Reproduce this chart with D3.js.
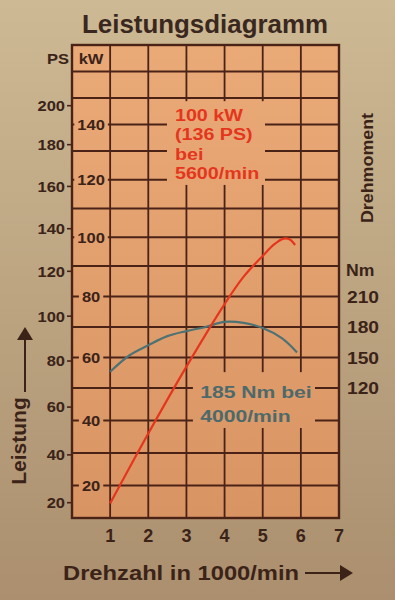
<!DOCTYPE html>
<html>
<head>
<meta charset="utf-8">
<script src="https://cdn.jsdelivr.net/npm/d3@7"></script>
<style>
body { margin: 0; background: #c2aa86; }
svg { display: block; font-family: "Liberation Sans", Arial, sans-serif; font-weight: bold; }
</style>
</head>
<body>
<div id="chart"><svg></svg></div>
<script>
// values
var rpmTicks = [1, 2, 3, 4, 5, 6, 7];
var kwTicks = [20, 40, 60, 80, 100, 120, 140];
var psTicks = [20, 40, 60, 80, 100, 120, 140, 160, 180, 200];
var nmTicks = [120, 150, 180, 210];

var powerRpm = [1, 2, 3, 4, 4.5, 5, 5.3, 5.55, 5.7, 5.85];
var powerKw = [14.5, 36, 57, 77.5, 86.5, 93.5, 97.5, 99.5, 99.3, 97.3];

var torqueRpm = [1, 1.5, 2, 2.5, 3, 3.5, 4, 4.5, 5, 5.5, 5.9];
var torqueNm = [136, 152, 162, 171, 176, 180, 185, 184, 179, 169, 155];

var powerNote = ["100 kW", "(136 PS)", "bei", "5600/min"];
var torqueNote = ["185 Nm bei", "4000/min"];

function psToKw(ps) { return ps * 0.7355; }
function nmToKw(nm) { return (nm + 30) / 3; }

// the print uses a wide face, so stretch the text a bit
function widen(sel, k) {
	sel.each(function() {
		var len = this.getComputedTextLength();
		d3.select(this)
			.attr("textLength", len * k)
			.attr("lengthAdjust", "spacingAndGlyphs");
	});
}

function PowerChart(selector) {
	var self = this;
	self.svg = d3.select(selector + " svg");
	self.width = 395;
	self.height = 600;
	self.x = d3.scaleLinear().domain([0, 7]).range([72, 339]);
	// photo perspective: rows get a little taller towards the bottom
	self.y = d3.scaleLinear().domain([10, 50, 90, 130, 170]).range([518, 388, 266, 151, 45]);
	self.ink = "#3b2318";
	self.gridColor = "#4a2216";
}

PowerChart.prototype.draw = function() {
	var self = this;
	self.svg.attr("width", self.width).attr("height", self.height);
	self.drawBackground();
	self.drawGrid();
	self.drawPatches();
	self.drawCurves();
	self.drawAxes();
	self.drawNotes();
	self.drawTitles();
};

PowerChart.prototype.drawBackground = function() {
	var self = this;
	var defs = self.svg.append("defs");
	var paper = defs.append("linearGradient")
			.attr("id", "paper")
			.attr("gradientUnits", "userSpaceOnUse")
			.attr("x1", 0).attr("y1", 0).attr("x2", 0).attr("y2", self.height);
	paper.append("stop").attr("offset", 0).attr("stop-color", "#cdb994");
	paper.append("stop").attr("offset", 1).attr("stop-color", "#ab8f6e");
	var plate = defs.append("linearGradient")
			.attr("id", "plate")
			.attr("gradientUnits", "userSpaceOnUse")
			.attr("x1", 0).attr("y1", self.y(170)).attr("x2", 0).attr("y2", self.y(10));
	plate.append("stop").attr("offset", 0).attr("stop-color", "#eaaa78");
	plate.append("stop").attr("offset", 1).attr("stop-color", "#d99463");

	self.svg.append("rect")
			.attr("width", self.width)
			.attr("height", self.height)
			.attr("fill", "url(#paper)");
	self.svg.append("rect")
			.attr("x", self.x(0))
			.attr("y", self.y(170))
			.attr("width", self.x(7) - self.x(0))
			.attr("height", self.y(10) - self.y(170))
			.attr("fill", "url(#plate)");
};

PowerChart.prototype.drawGrid = function() {
	var self = this;
	var grid = self.svg.append("g")
			.attr("stroke", self.gridColor)
			.attr("stroke-width", 1.8);
	grid.selectAll("line.v")
			.data(d3.range(1, 7))
			.enter().append("line")
			.attr("class", "v")
			.attr("x1", function(d) { return self.x(d); })
			.attr("x2", function(d) { return self.x(d); })
			.attr("y1", self.y(170))
			.attr("y2", self.y(10));
	grid.selectAll("line.h")
			.data(d3.range(20, 170, 10))
			.enter().append("line")
			.attr("class", "h")
			.attr("x1", self.x(0))
			.attr("x2", self.x(7))
			.attr("y1", function(d) { return self.y(d); })
			.attr("y2", function(d) { return self.y(d); });
};

PowerChart.prototype.drawPatches = function() {
	var self = this;
	// the printed notes blank out the grid behind them
	var boxes = [
		{ x0: 2.49, x1: 5.06, y0: 148.8, y1: 118.2 },
		{ x0: 3.17, x1: 6.37, y0: 55.2, y1: 37.7 }
	];
	self.svg.selectAll("rect.patch")
			.data(boxes)
			.enter().append("rect")
			.attr("class", "patch")
			.attr("x", function(d) { return self.x(d.x0); })
			.attr("y", function(d) { return self.y(d.y0); })
			.attr("width", function(d) { return self.x(d.x1) - self.x(d.x0); })
			.attr("height", function(d) { return self.y(d.y1) - self.y(d.y0); })
			.attr("fill", "url(#plate)");
	self.svg.append("rect")
			.attr("x", self.x(0))
			.attr("y", self.y(170))
			.attr("width", self.x(7) - self.x(0))
			.attr("height", self.y(10) - self.y(170))
			.attr("fill", "none")
			.attr("stroke", self.gridColor)
			.attr("stroke-width", 2.4);
};

PowerChart.prototype.drawCurves = function() {
	var self = this;
	var line = d3.line()
			.x(function(d) { return self.x(d[0]); })
			.y(function(d) { return self.y(d[1]); })
			.curve(d3.curveCatmullRom.alpha(0.5));
	var torque = d3.zip(torqueRpm, torqueNm.map(nmToKw));
	var power = d3.zip(powerRpm, powerKw);
	self.svg.append("path")
			.attr("d", line(torque))
			.attr("fill", "none")
			.attr("stroke", "#4e7274")
			.attr("stroke-width", 2.2);
	self.svg.append("path")
			.attr("d", line(power))
			.attr("fill", "none")
			.attr("stroke", "#e5361d")
			.attr("stroke-width", 2.2);
};

PowerChart.prototype.drawAxes = function() {
	var self = this;
	var left = self.x(0);

	// kW labels inside the first column, each on its own blank patch
	var kwRect = self.svg.selectAll("rect.kw")
			.data(kwTicks)
			.enter().append("rect")
			.attr("class", "kw")
			.attr("fill", "url(#plate)");
	var kwText = self.svg.selectAll("text.kw")
			.data(kwTicks)
			.enter().append("text")
			.attr("class", "kw")
			.attr("x", self.x(0.5))
			.attr("y", function(d) { return self.y(d); })
			.attr("text-anchor", "middle")
			.attr("dy", "0.36em")
			.attr("font-size", 15)
			.attr("fill", self.ink)
			.text(function(d) { return d; });
	widen(kwText, 1.1);
	kwText.each(function(d, i) {
		var box = this.getBBox();
		d3.select(kwRect.nodes()[i])
				.attr("x", box.x - 3)
				.attr("y", self.y(d) - 4)
				.attr("width", box.width + 6)
				.attr("height", 8);
	});

	// PS scale outside the box
	var ps = self.svg.selectAll("g.ps")
			.data(psTicks)
			.enter().append("g")
			.attr("class", "ps")
			.attr("transform", function(d) { return "translate(" + left + "," + self.y(psToKw(d)) + ")"; });
	ps.append("line")
			.attr("x1", -5)
			.attr("x2", 0)
			.attr("stroke", self.gridColor)
			.attr("stroke-width", 1.6);
	var psText = ps.append("text")
			.attr("x", -7)
			.attr("dy", "0.36em")
			.attr("text-anchor", "end")
			.attr("font-size", 15)
			.attr("fill", self.ink)
			.text(function(d) { return d; });
	widen(psText, 1.1);

	// Nm scale on the right
	var nmText = self.svg.selectAll("text.nm")
			.data(nmTicks)
			.enter().append("text")
			.attr("class", "nm")
			.attr("x", self.x(7) + 8)
			.attr("y", function(d) { return self.y(nmToKw(d)); })
			.attr("dy", "0.4em")
			.attr("font-size", 16)
			.attr("fill", self.ink)
			.text(function(d) { return d; });
	widen(nmText, 1.2);
	var nmUnit = self.svg.append("text")
			.attr("x", self.x(7) + 7)
			.attr("y", self.y(nmToKw(240)))
			.attr("dy", "0.6em")
			.attr("font-size", 16)
			.attr("fill", self.ink)
			.text("Nm");
	widen(nmUnit, 1.1);

	// rpm labels
	self.svg.selectAll("text.rpm")
			.data(rpmTicks)
			.enter().append("text")
			.attr("class", "rpm")
			.attr("x", function(d) { return self.x(d); })
			.attr("y", self.y(10) + 24)
			.attr("text-anchor", "middle")
			.attr("font-size", 18)
			.attr("fill", self.ink)
			.text(function(d) { return d; });

	// header cell
	var headY = (self.y(170) + self.y(160)) / 2;
	var psHead = self.svg.append("text")
			.attr("x", left - 3)
			.attr("y", headY)
			.attr("dy", "0.36em")
			.attr("text-anchor", "end")
			.attr("font-size", 15)
			.attr("fill", self.ink)
			.text("PS");
	widen(psHead, 1.1);
	var kwHead = self.svg.append("text")
			.attr("x", self.x(0.5))
			.attr("y", headY)
			.attr("dy", "0.36em")
			.attr("text-anchor", "middle")
			.attr("font-size", 15)
			.attr("fill", self.ink)
			.text("kW");
	widen(kwHead, 1.1);
};

PowerChart.prototype.drawNotes = function() {
	var self = this;
	var red = self.svg.append("text")
			.attr("x", self.x(2.7))
			.attr("y", self.y(141.3))
			.attr("font-size", 16)
			.attr("fill", "#e5361d");
	red.selectAll("tspan")
			.data(powerNote)
			.enter().append("tspan")
			.attr("x", self.x(2.7))
			.attr("dy", function(d, i) { return i ? 19.3 : 0; })
			.text(function(d) { return d; });
	widen(red.selectAll("tspan"), 1.23);

	var green = self.svg.append("text")
			.attr("x", self.x(3.36))
			.attr("y", self.y(46.9))
			.attr("font-size", 16.5)
			.attr("fill", "#4c6a6b");
	green.selectAll("tspan")
			.data(torqueNote)
			.enter().append("tspan")
			.attr("x", self.x(3.36))
			.attr("dy", function(d, i) { return i ? 23.5 : 0; })
			.text(function(d) { return d; });
	widen(green.selectAll("tspan"), 1.28);
};

PowerChart.prototype.drawTitles = function() {
	var self = this;
	var title = self.svg.append("text")
			.attr("x", 205)
			.attr("y", 33)
			.attr("text-anchor", "middle")
			.attr("font-size", 25)
			.attr("fill", "#3a2820")
			.text("Leistungsdiagramm");
	widen(title, 1.035);

	var xTitle = self.svg.append("text")
			.attr("x", 63)
			.attr("y", 580)
			.attr("font-size", 21)
			.attr("fill", self.ink)
			.text("Drehzahl in 1000/min");
	widen(xTitle, 1.13);
	self.svg.append("line")
			.attr("x1", 305).attr("y1", 573)
			.attr("x2", 342).attr("y2", 573)
			.attr("stroke", self.ink)
			.attr("stroke-width", 2);
	self.svg.append("path")
			.attr("d", "M340,565L353,573L340,581Z")
			.attr("fill", self.ink);

	var yTitle = self.svg.append("text")
			.attr("transform", "translate(26,441) rotate(-90)")
			.attr("text-anchor", "middle")
			.attr("font-size", 20)
			.attr("fill", self.ink)
			.text("Leistung");
	widen(yTitle, 1.05);
	self.svg.append("line")
			.attr("x1", 25).attr("y1", 392)
			.attr("x2", 25).attr("y2", 337)
			.attr("stroke", self.ink)
			.attr("stroke-width", 2);
	self.svg.append("path")
			.attr("d", "M17,340L25,327L33,340Z")
			.attr("fill", self.ink);

	var rTitle = self.svg.append("text")
			.attr("transform", "translate(373,168) rotate(-90)")
			.attr("text-anchor", "middle")
			.attr("font-size", 17)
			.attr("fill", self.ink)
			.text("Drehmoment");
	widen(rTitle, 1.05);
};

var chart = new PowerChart("#chart");
chart.draw();
</script>
</body>
</html>
